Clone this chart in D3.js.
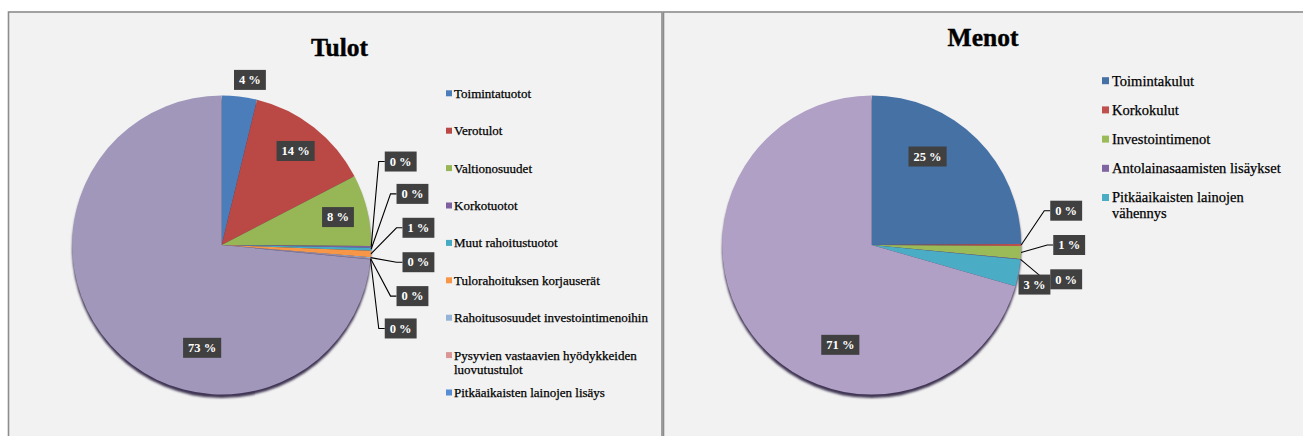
<!DOCTYPE html>
<html>
<head>
<meta charset="utf-8">
<script src="https://cdn.jsdelivr.net/npm/d3@7"></script>
<style>
body { margin: 0; background: #fff; }
</style>
</head>
<body>
<svg id="chart" width="1303" height="436"></svg>
<script>
// Tulot
var tulotCategories = ["Toimintatuotot", "Verotulot", "Valtionosuudet", "Korkotuotot", "Muut rahoitustuotot",
    "Tulorahoituksen korjauserät", "Rahoitusosuudet investointimenoihin",
    "Pysyvien vastaavien hyödykkeiden luovutustulot", "Pitkäaikaisten lainojen lisäys", ""];
var tulotValues = [3.8, 13.6, 7.7, 0.2, 0.3, 0.7, 0.1, 0.1, 0.05, 73.45];
var tulotColors = ["#4a7dba", "#ba4946", "#97b757", "#7d60a0", "#46aac5", "#f79646", "#95b3d7", "#d99694", "#558ed5", "#a197bb"];

// Menot
var menotCategories = ["Toimintakulut", "Korkokulut", "Investointimenot", "Antolainasaamisten lisäykset",
    "Pitkäaikaisten lainojen vähennys", ""];
var menotValues = [24.9, 0.2, 1.4, 0.05, 2.9, 70.55];
var menotColors = ["#4571a5", "#c0504d", "#9bbb59", "#8064a2", "#4bacc6", "#b0a0c5"];

var FONT = "'Liberation Serif', 'DejaVu Serif', serif";

var svg = d3.select("#chart")
    .attr("font-family", FONT);

var defs = svg.append("defs");
defs.append("filter").attr("id", "blur")
    .append("feGaussianBlur").attr("stdDeviation", 0.9);

// panels
svg.append("rect")
    .attr("x", 8.5).attr("y", 12)
    .attr("width", 653.5).attr("height", 440)
    .style("fill", "#f2f2f2").style("stroke", "#8c8c8c").style("stroke-width", 1.6);
svg.append("rect")
    .attr("x", 663.5).attr("y", 12)
    .attr("width", 660).attr("height", 440)
    .style("fill", "#f2f2f2").style("stroke", "#8c8c8c").style("stroke-width", 1.6);

var drawpie = function(opt) {
    var data = opt.categories.map(function(c, i) {
        return {name: c, value: opt.values[i], color: opt.colors[i]};
    });
    var total = d3.sum(opt.values);
    var r = opt.r;

    var g = svg.append("g")
        .attr("transform", "translate(" + opt.cx + "," + opt.cy + ")");

    // title
    svg.append("text")
        .attr("x", opt.titleX).attr("y", opt.titleY)
        .style("font-family", FONT)
        .style("text-anchor", "middle")
        .style("font-weight", "bold")
        .style("font-size", "25.5px")
        .style("fill", "#000")
        .style("stroke", "#000").style("stroke-width", 0.4)
        .text(opt.title);

    var pie = d3.pie().sort(null).value(function(d) { return d.value; });
    var arc = d3.arc().innerRadius(0).outerRadius(r);
    var arcs = pie(data);

    // shadow
    g.append("circle")
        .attr("cx", 0).attr("cy", 3.5).attr("r", r)
        .style("fill", "#3f3653")
        .attr("filter", "url(#blur)");

    g.selectAll(".slice")
        .data(arcs)
        .enter().append("path")
        .attr("class", "slice")
        .attr("d", arc)
        .style("fill", function(d) { return d.data.color; });

    var pt = function(a, rho) { return [rho * Math.sin(a), -rho * Math.cos(a)]; };

    var small = arcs.filter(function(d) { return d.data.value / total < 0.02; });
    var step = 10 * Math.PI / 180;

    arcs.forEach(function(d) {
        var frac = d.data.value / total;
        var mid = (d.startAngle + d.endAngle) / 2;
        var pos, leader = false;
        if (frac >= 0.2) {
            pos = pt(d.startAngle + 0.36 * (d.endAngle - d.startAngle), r * 0.7);
        } else if (frac >= 0.05) {
            pos = pt(mid, r * 0.8);
        } else if (frac >= 0.02) {
            pos = pt(mid + 0.05, r + 18);
        } else {
            var i = small.indexOf(d);
            pos = pt(Math.PI / 2 + (i - (small.length - 1) / 2) * step, r + 48);
            leader = true;
        }
        var lg = g.append("g");
        var t = lg.append("text")
            .attr("x", pos[0]).attr("y", pos[1])
            .attr("dy", "0.34em")
            .style("font-family", FONT)
            .style("text-anchor", "middle")
            .style("font-weight", "bold")
            .style("font-size", "12.5px")
            .style("fill", "#fff")
            .text(Math.round(frac * 100) + " %");
        var w = t.node().getComputedTextLength() + 10, h = 20;
        lg.insert("rect", "text")
            .attr("x", pos[0] - w / 2).attr("y", pos[1] - h / 2)
            .attr("width", w).attr("height", h)
            .style("fill", "#404040");
        if (leader) {
            var e = pt(mid, r);
            var bl = pos[0] - w / 2;
            g.insert("path", "g")
                .attr("d", d3.line()([e, [bl - 6, pos[1]], [bl, pos[1]]]))
                .style("fill", "none")
                .style("stroke", "#000")
                .style("stroke-width", 1.1);
        }
    });

    // legend
    var legend = svg.selectAll(".legend-" + opt.id)
        .data(data.filter(function(d) { return d.name !== ""; }))
        .enter().append("g")
        .attr("class", "legend-" + opt.id)
        .attr("transform", function(d, i) {
            return "translate(" + opt.legendX + "," + (opt.legendY + i * opt.legendStep) + ")";
        });

    legend.append("rect")
        .attr("x", 0).attr("y", -opt.marker / 2)
        .attr("width", opt.marker).attr("height", opt.marker)
        .style("fill", function(d) { return d.color; });

    legend.append("text")
        .attr("x", opt.textOffset).attr("y", 0)
        .style("font-family", FONT)
        .style("font-size", opt.fontSize + "px")
        .style("fill", "#000")
        .style("stroke", "#000").style("stroke-width", 0.25)
        .each(function(d) {
            var el = d3.select(this);
            var words = d.name.split(" "), line = [];
            var ts = el.append("tspan").attr("x", opt.textOffset).attr("dy", "0.34em");
            words.forEach(function(word) {
                line.push(word);
                ts.text(line.join(" "));
                if (ts.node().getComputedTextLength() > opt.maxWidth && line.length > 1) {
                    line.pop();
                    ts.text(line.join(" "));
                    line = [word];
                    ts = el.append("tspan").attr("x", opt.textOffset).attr("dy", "1.1em").text(word);
                }
            });
        });
};

drawpie({
    id: "tulot", title: "Tulot", titleX: 339.5, titleY: 56,
    categories: tulotCategories, values: tulotValues, colors: tulotColors,
    cx: 221.7, cy: 245, r: 149.5,
    legendX: 446, legendY: 93.3, legendStep: 37.4, marker: 6, textOffset: 8,
    fontSize: 13, maxWidth: 205
});

drawpie({
    id: "menot", title: "Menot", titleX: 983, titleY: 46,
    categories: menotCategories, values: menotValues, colors: menotColors,
    cx: 871.7, cy: 245, r: 149.5,
    legendX: 1102, legendY: 80.7, legendStep: 29.2, marker: 7, textOffset: 10,
    fontSize: 14.5, maxWidth: 180
});
</script>
</body>
</html>
